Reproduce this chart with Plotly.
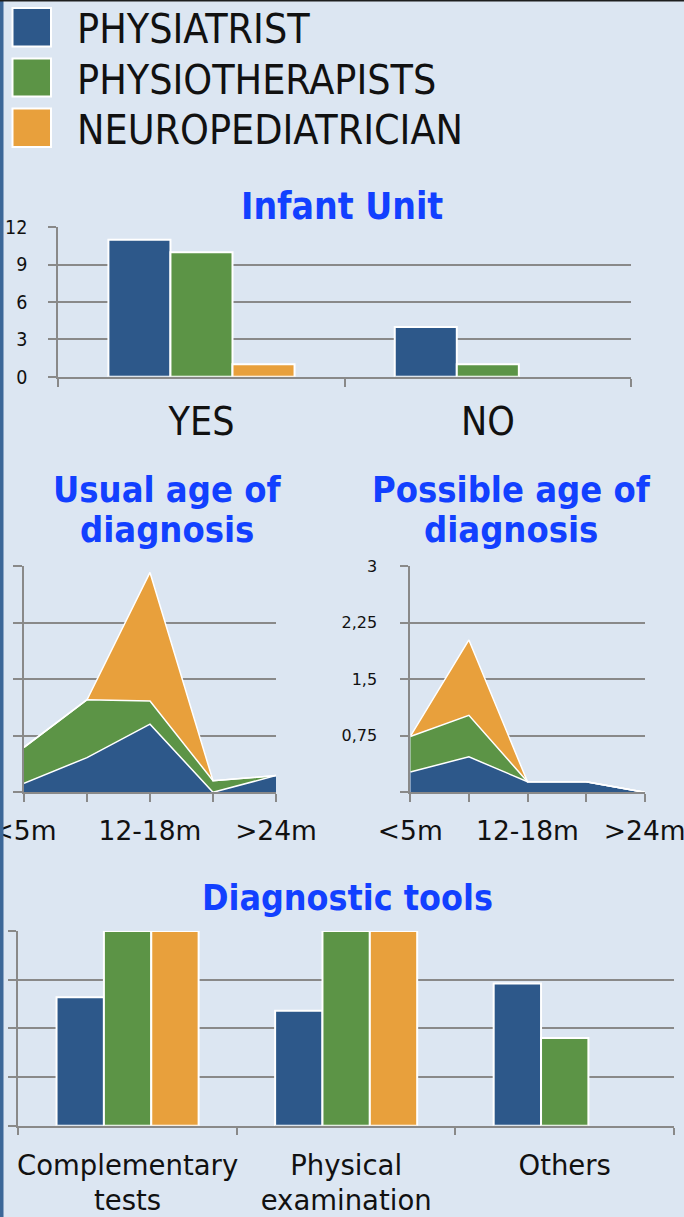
import plotly.graph_objects as go

W, H = 684, 1217

# ---------------- data ----------------
series = ["PHYSIATRIST", "PHYSIOTHERAPISTS", "NEUROPEDIATRICIAN"]
colors = ["#2D588A", "#5C9446", "#E8A03C"]

infant_categories = ["YES", "NO"]
infant_physiatrist = [11, 4]
infant_physio = [10, 1]
infant_neuro = [1, 0]
infant_ticks = [0, 3, 6, 9, 12]

age_positions = [0, 1, 2, 3, 4]
age_labels = ["<5m", "", "12-18m", "", ">24m"]

usual_physiatrist = [0.07, 0.27, 0.53, 0.0, 0.13]
usual_physio = [0.28, 0.45, 0.18, 0.09, 0.0]
usual_neuro = [0.0, 0.0, 1.0, 0.0, 0.0]
usual_ticks = [0, 0.44, 0.88, 1.32, 1.76]

possible_physiatrist = [0.27, 0.47, 0.14, 0.14, 0.0]
possible_physio = [0.47, 0.55, 0.0, 0.0, 0.0]
possible_neuro = [0.0, 1.0, 0.0, 0.0, 0.0]
possible_ticks = [0, 0.75, 1.5, 2.25, 3]
possible_ticktext = ["", "0,75", "1,5", "2,25", "3"]

tools_categories = ["Complementary<br>tests", "Physical<br>examination", "Others"]
tools_physiatrist = [0.66, 0.59, 0.73]
tools_physio = [1.0, 1.0, 0.45]
tools_neuro = [1.0, 1.0, 0.0]
tools_ticks = [0, 0.25, 0.5, 0.75, 1.0]

# ---------------- style ----------------
BG = "#DCE6F2"
GRID = "#898989"
TITLE_BLUE = "#1240FF"
TXT = "#111111"
NARROW = "Liberation Sans Narrow, DejaVu Sans Condensed, Arial Narrow, sans-serif"
WIDE = "DejaVu Sans, Verdana, sans-serif"
TITLEF = "DejaVu Sans Condensed, DejaVu Sans, sans-serif"


def px(x):
    return x / W


def py(y):
    return 1 - y / H


def no_zero(vals):
    # a zero-height bar is not drawn at all in the reference
    return [v if v else None for v in vals]


fig = go.Figure()

# Infant unit bars
for name, vals, col in zip(series, [infant_physiatrist, infant_physio, infant_neuro], colors):
    fig.add_trace(go.Bar(x=infant_categories, y=no_zero(vals), name=name,
                         marker=dict(color=col, line=dict(color="white", width=2)),
                         xaxis="x", yaxis="y", showlegend=False))

# Usual age area
for name, vals, col in zip(series, [usual_physiatrist, usual_physio, usual_neuro], colors):
    fig.add_trace(go.Scatter(x=age_positions, y=vals, name=name, mode="lines", stackgroup="usual",
                             line=dict(color="white", width=1.5), fillcolor=col,
                             xaxis="x2", yaxis="y2", showlegend=False))

# Possible age area
for name, vals, col in zip(series, [possible_physiatrist, possible_physio, possible_neuro], colors):
    fig.add_trace(go.Scatter(x=age_positions, y=vals, name=name, mode="lines", stackgroup="possible",
                             line=dict(color="white", width=1.5), fillcolor=col,
                             xaxis="x3", yaxis="y3", showlegend=False))

# Diagnostic tools bars
for name, vals, col in zip(series, [tools_physiatrist, tools_physio, tools_neuro], colors):
    fig.add_trace(go.Bar(x=tools_categories, y=no_zero(vals), name=name,
                         marker=dict(color=col, line=dict(color="white", width=2)),
                         xaxis="x4", yaxis="y4", showlegend=False))

axis_common = dict(showline=True, linecolor=GRID, linewidth=2, ticks="outside", tickcolor=GRID,
                   tickwidth=2, zeroline=False, automargin=False, fixedrange=True,
                   ticklabeloverflow="allow")

fig.update_layout(
    width=W, height=H,
    margin=dict(l=0, r=0, t=0, b=0, pad=0, autoexpand=False),
    paper_bgcolor=BG, plot_bgcolor=BG,
    barmode="group", bargap=0.35, bargroupgap=0,
    xaxis=dict(domain=[px(58.3), px(631)], type="category", tickson="boundaries", ticklen=8, tickangle=0,
               showgrid=False, tickfont=dict(family=NARROW, size=39, color=TXT), ticklabelstandoff=9,
               anchor="y", **axis_common),
    yaxis=dict(domain=[py(376.7), py(227.3)], range=[0, 12], tickvals=infant_ticks, ticklen=8,
               showgrid=True, gridcolor=GRID, gridwidth=2,
               tickfont=dict(family=NARROW, size=19.5, color=TXT), ticklabelstandoff=17,
               anchor="x", **axis_common),
    xaxis2=dict(domain=[px(24), px(276)], range=[0, 4], tickvals=age_positions, ticktext=age_labels, ticklen=8,
                tickangle=0, showgrid=False, tickfont=dict(family=WIDE, size=26.5, color=TXT), ticklabelstandoff=6,
                anchor="y2", **axis_common),
    yaxis2=dict(domain=[py(792.3), py(566)], range=[0, 1.76], tickvals=usual_ticks, ticklen=9,
                showgrid=True, gridcolor=GRID, gridwidth=2, showticklabels=False,
                anchor="x2", **axis_common),
    xaxis3=dict(domain=[px(410.3), px(644.7)], range=[0, 4], tickvals=age_positions, ticktext=age_labels, ticklen=8,
                tickangle=0, showgrid=False, tickfont=dict(family=WIDE, size=26.5, color=TXT), ticklabelstandoff=6,
                anchor="y3", **axis_common),
    yaxis3=dict(domain=[py(792.3), py(566)], range=[0, 3], tickvals=possible_ticks, ticktext=possible_ticktext,
                ticklen=8, showgrid=True, gridcolor=GRID, gridwidth=2,
                tickfont=dict(family=WIDE, size=16, color=TXT), ticklabelstandoff=20,
                anchor="x3", **axis_common),
    xaxis4=dict(domain=[px(18.3), px(674)], type="category", tickson="boundaries", ticklen=7, tickangle=0,
                showgrid=False, tickfont=dict(family=WIDE, size=27.5, color=TXT), ticklabelstandoff=14,
                anchor="y4", **axis_common),
    yaxis4=dict(domain=[py(1125.7), py(931)], range=[0, 1], tickvals=tools_ticks, ticklen=8,
                showgrid=True, gridcolor=GRID, gridwidth=2, showticklabels=False,
                anchor="x4", **axis_common),
)

shapes = []
# left strip and top border
shapes.append(dict(type="rect", xref="paper", yref="paper", x0=0, x1=px(3.5), y0=0, y1=1,
                   fillcolor="#3C6798", line=dict(width=0), layer="above"))
shapes.append(dict(type="rect", xref="paper", yref="paper", x0=0, x1=1, y0=py(1.5), y1=1,
                   fillcolor="#1E1E1E", line=dict(width=0), layer="above"))

# legend swatches
legend_rows = [(8, 46.5), (58.5, 96.5), (108.5, 147)]
annotations = []
for (y0, y1), name, col in zip(legend_rows, series, colors):
    shapes.append(dict(type="rect", xref="paper", yref="paper", x0=px(12.5), x1=px(51), y0=py(y1), y1=py(y0),
                       fillcolor=col, line=dict(color="white", width=2)))
    annotations.append(dict(text=name, xref="paper", yref="paper", x=px(75), y=py((y0 + y1) / 2 + 2),
                            xanchor="left", yanchor="middle", showarrow=False,
                            font=dict(family=NARROW, size=40.8, color=TXT)))

titles = [
    ("Infant Unit", 341.5, 206.7, 37),
    ("Usual age of", 167, 489, 36),
    ("diagnosis", 167, 529.5, 36),
    ("Possible age of", 511, 489, 36),
    ("diagnosis", 511, 529.5, 36),
    ("Diagnostic tools", 347.5, 897.5, 35.5),
]
for text, x, y, s in titles:
    annotations.append(dict(text=text, xref="paper", yref="paper", x=px(x), y=py(y), xanchor="center",
                            yanchor="middle", showarrow=False,
                            font=dict(family=TITLEF, size=s, color=TITLE_BLUE, weight="bold")))

fig.update_layout(shapes=shapes, annotations=annotations)
fig.write_html("out.html", config={"displayModeBar": False},
               post_script="document.body.style.margin='0';document.body.style.padding='0';")
